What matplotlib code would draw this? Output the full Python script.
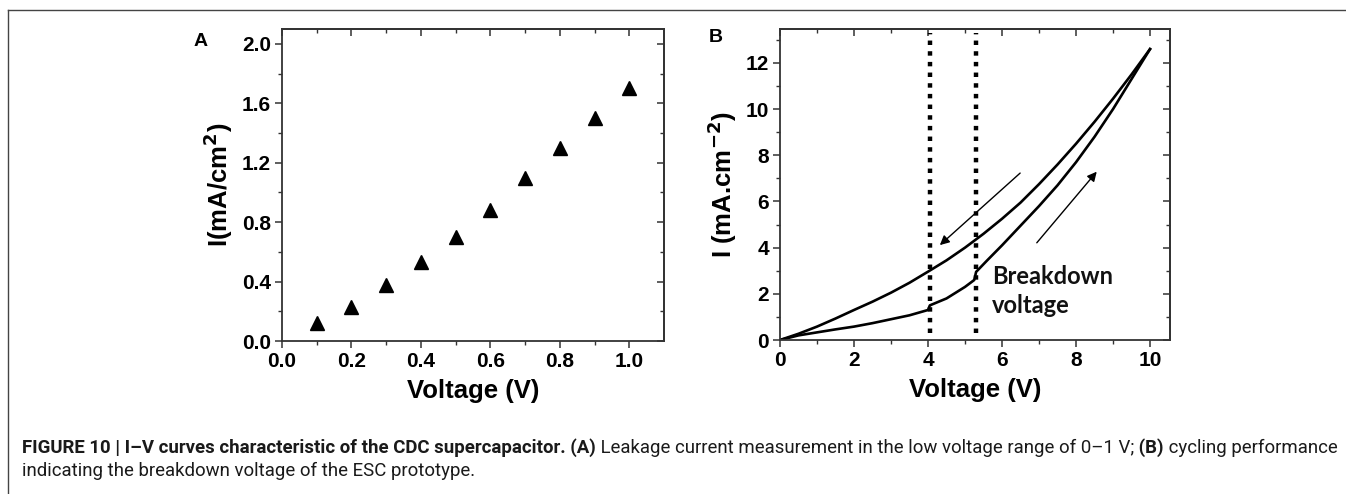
import numpy as np
import matplotlib
matplotlib.use('Agg')
import matplotlib.pyplot as plt
from matplotlib.lines import Line2D


# panel A: leakage current, 0-1 V
volt_a = [0.1, 0.2, 0.3, 0.4, 0.5, 0.6, 0.7, 0.8, 0.9, 1.0]
curr_a = [0.12, 0.23, 0.38, 0.53, 0.70, 0.88, 1.10, 1.30, 1.50, 1.70]

# panel B: cycling curve, forward (lower) and reverse (upper) branch
volt_fwd = [0, 0.5, 1.0, 1.5, 2.0, 2.5, 3.0, 3.5, 4.0, 4.05, 4.5, 5.0, 5.25, 5.3,
            5.6, 6.0, 6.5, 7.0, 7.5, 8.0, 8.5, 9.0, 9.5, 10.0]
curr_fwd = [0, 0.2, 0.33, 0.46, 0.58, 0.73, 0.9, 1.07, 1.3, 1.5, 1.8, 2.3, 2.6, 2.95,
            3.45, 4.1, 4.95, 5.8, 6.7, 7.7, 8.8, 10.0, 11.3, 12.6]
volt_rev = [0, 0.5, 1.0, 1.5, 2.0, 2.5, 3.0, 3.5, 4.0, 4.5, 5.0, 5.5, 6.0, 6.5,
            7.0, 7.5, 8.0, 8.5, 9.0, 9.5, 10.0]
curr_rev = [0, 0.27, 0.58, 0.93, 1.3, 1.66, 2.05, 2.48, 2.96, 3.45, 4.0, 4.6, 5.25, 5.95,
            6.75, 7.6, 8.5, 9.45, 10.45, 11.5, 12.6]

breakdown_v = [4.05, 5.3]
dotted_span = [0.3, 13.3]
arrow_down = [(6.49, 7.23), (4.32, 4.11)]
arrow_up = [(6.94, 4.21), (8.56, 7.29)]

W, H = 1346, 494
fig = plt.figure(figsize=(W / 100, H / 100), dpi=100)

tick_font = dict(family='Liberation Sans', weight='bold', size=15)
label_font = dict(family='Liberation Sans', weight='bold', size=18.5)
spine_col = '#333333'


def style_axes(ax, xmaj, xmin, ymaj, ymin, fmt):
    for s in ax.spines.values():
        s.set_color(spine_col)
        s.set_linewidth(1.3)
    ax.set_xticks(xmaj)
    ax.set_xticks(xmin, minor=True)
    ax.set_yticks(ymaj)
    ax.set_yticks(ymin, minor=True)
    ax.set_xticklabels([fmt.format(v) for v in xmaj], fontdict=tick_font)
    ax.set_yticklabels([fmt.format(v) for v in ymaj], fontdict=tick_font)
    ax.tick_params(which='major', direction='out', length=5, width=1.1, color=spine_col, pad=3)
    ax.tick_params(which='minor', direction='out', length=3, width=1.0, color=spine_col)
    # mirrored ticks on top and right, pointing inward
    top = ax.secondary_xaxis('top')
    top.set_xticks(xmaj)
    top.set_xticks(xmin, minor=True)
    top.set_xticklabels([])
    right = ax.secondary_yaxis('right')
    right.set_yticks(ymaj)
    right.set_yticks(ymin, minor=True)
    right.set_yticklabels([])
    for a in (top, right):
        a.tick_params(which='major', direction='in', length=5, width=1.1, color=spine_col)
        a.tick_params(which='minor', direction='in', length=3, width=1.0, color=spine_col)
        for s in a.spines.values():
            s.set_color(spine_col)
            s.set_linewidth(1.3)


# panel A
axA = fig.add_axes([282 / W, 1 - 341 / H, 382 / W, 312 / H])
axA.plot(volt_a, curr_a, linestyle='none', marker='^', ms=9.5, color='black')
axA.set_xlim(0, 1.1)
axA.set_ylim(0, 2.1)
style_axes(axA, np.arange(0, 1.01, 0.2), np.arange(0.1, 1.1, 0.2),
           np.arange(0, 2.01, 0.4), np.arange(0.2, 2.1, 0.4), '{:.1f}')
axA.set_xlabel('Voltage (V)', fontdict=label_font, labelpad=6)
axA.set_ylabel('I(mA/cm$^\\mathbf{2}$)', fontdict=label_font, labelpad=5)

# panel B
axB = fig.add_axes([780 / W, 1 - 340 / H, 390 / W, 311 / H])
axB.plot(volt_fwd, curr_fwd, color='black', lw=1.9)
axB.plot(volt_rev, curr_rev, color='black', lw=1.9)
for v in breakdown_v:
    axB.add_line(Line2D([v, v], dotted_span, color='black', lw=3.2,
                        linestyle=(0, (1, 1.4)), dash_capstyle='butt'))
for start, end in (arrow_down, arrow_up):
    axB.annotate('', xy=end, xytext=start,
                 arrowprops=dict(arrowstyle='-|>', lw=1.0, color='black',
                                 mutation_scale=14, shrinkA=0, shrinkB=0))
axB.text(5.72, 3.25, 'Breakdown\nvoltage', family='Lato', weight='bold', size=17,
         va='top', ha='left', linespacing=1.3, color='#111111')
axB.set_xlim(0, 10.54)
axB.set_ylim(0, 13.47)
style_axes(axB, np.arange(0, 10.1, 2), np.arange(1, 10.6, 2),
           np.arange(0, 12.1, 2), np.arange(1, 13.5, 2), '{:.0f}')
axB.set_xlabel('Voltage (V)', fontdict=label_font, labelpad=6)
axB.set_ylabel('I (mA.cm$^\\mathbf{-2}$)', fontdict=label_font, labelpad=5)

# panel letters
fig.text(201 / W, 1 - 42 / H, 'A', family='Liberation Sans', weight='bold', size=14,
         ha='center', va='center')
fig.text(716 / W, 1 - 38 / H, 'B', family='Liberation Sans', weight='bold', size=14,
         ha='center', va='center')

# page frame
fig.add_artist(Line2D([8 / W, 1], [1 - 10 / H, 1 - 10 / H], color='#444444', lw=1.0))
fig.add_artist(Line2D([8 / W, 8 / W], [0, 1 - 10 / H], color='#444444', lw=1.0))

# caption, mixed bold / regular runs
line1 = [('FIGURE 10 | I\u2013V curves characteristic of the CDC supercapacitor. (A)', 'bold'),
         (' Leakage current measurement in the low voltage range of 0\u20131 V;', 'normal'),
         (' (B)', 'bold'),
         (' cycling performance', 'normal')]
line2 = [('indicating the breakdown voltage of the ESC prototype.', 'normal')]

renderer = fig.canvas.get_renderer()
cap_family = 'Roboto'


def run_width(runs, size):
    total = 0
    for s, w in runs:
        t = fig.text(0, 0, s, family=cap_family, weight=w, size=size)
        total += t.get_window_extent(renderer).width
        t.remove()
    return total


cap_size = 10 * (1338 - 22) / run_width(line1, 10)


def draw_runs(runs, y_px):
    x = 22
    for s, w in runs:
        t = fig.text(x / W, 1 - y_px / H, s, family=cap_family, weight=w,
                     size=cap_size, va='center', ha='left', color='#1a1a1a')
        x += t.get_window_extent(renderer).width


draw_runs(line1, 448)
draw_runs(line2, 471)

fig.savefig('out.png', dpi=100)
